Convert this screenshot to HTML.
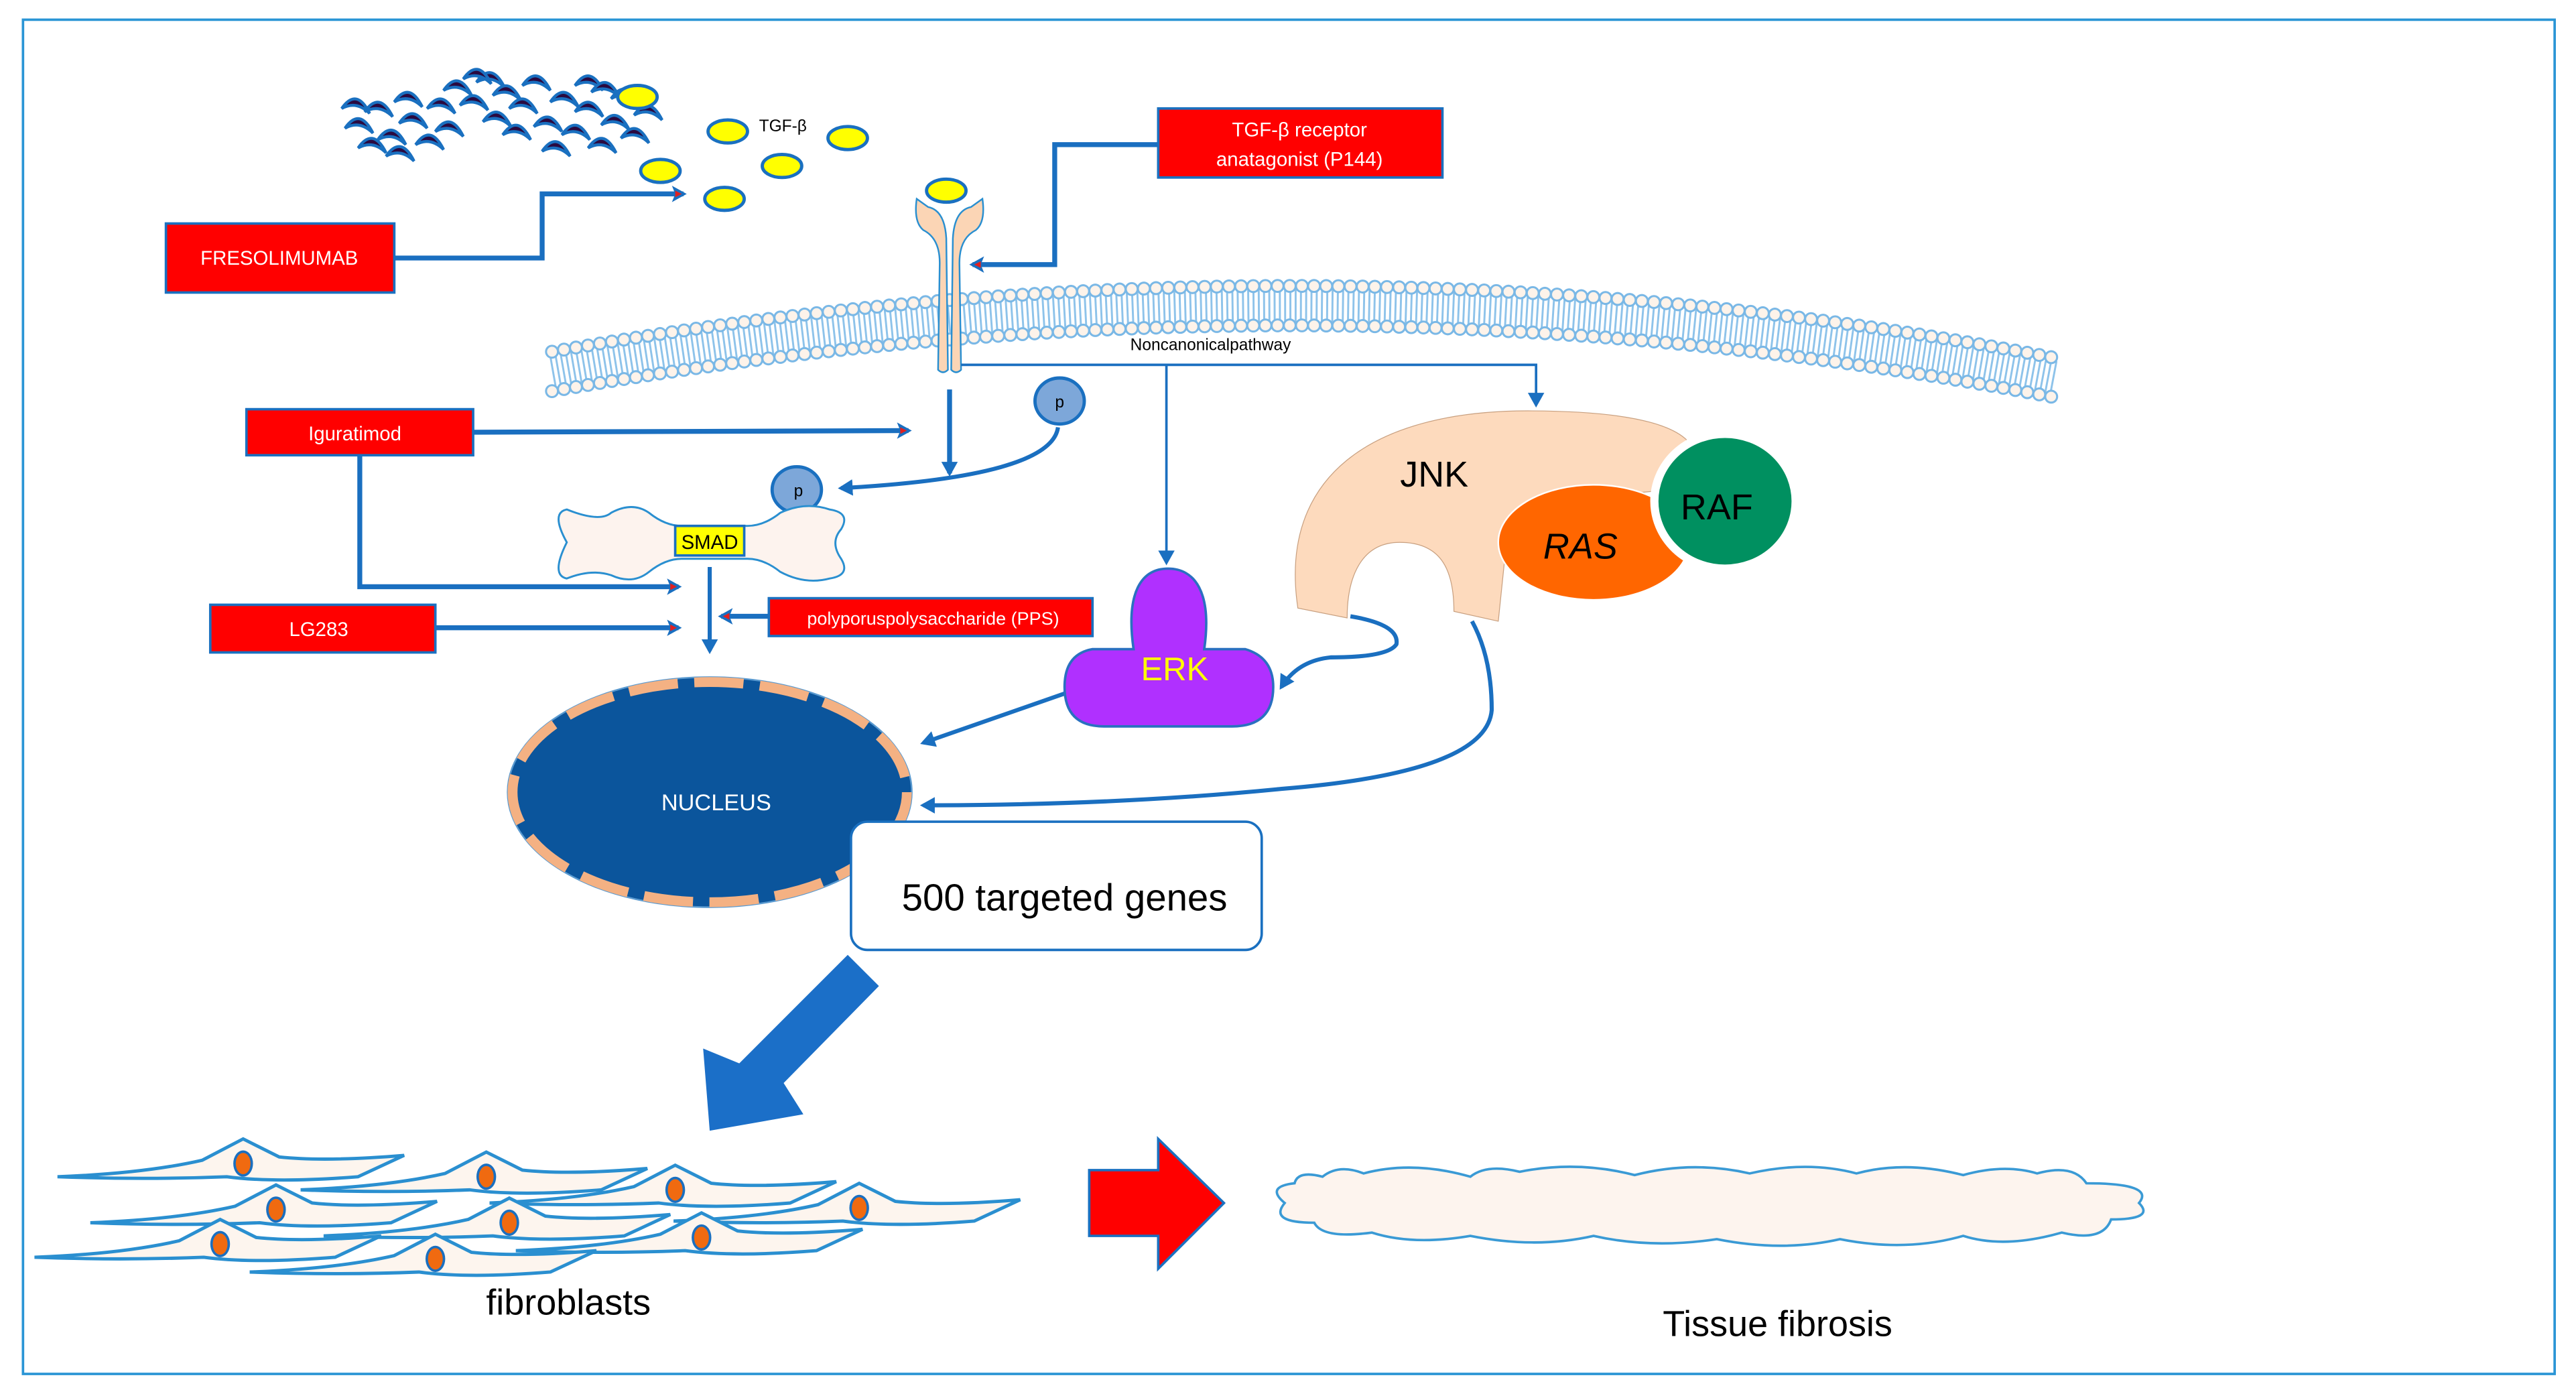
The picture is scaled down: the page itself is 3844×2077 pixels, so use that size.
<!DOCTYPE html>
<html><head><meta charset="utf-8"><style>
html,body{margin:0;padding:0;background:#fff;}
svg{display:block;}
text{font-family:"Liberation Sans",sans-serif;}
</style></head><body>
<svg width="3844" height="2077" viewBox="0 0 1568 847" preserveAspectRatio="none" xmlns="http://www.w3.org/2000/svg">
<defs>
<marker id="ah" markerWidth="10" markerHeight="10" refX="7" refY="5" orient="auto" markerUnits="userSpaceOnUse">
<path d="M0,0 L9,5 L0,10 L2,5 Z" fill="#1a6fc0"/><path d="M2,3 L6,5 L2,7 Z" fill="#e02020"/>
</marker>
<marker id="ab" markerWidth="10" markerHeight="10" refX="7" refY="5" orient="auto" markerUnits="userSpaceOnUse">
<path d="M0,0 L9,5 L0,10 Z" fill="#1a6fc0"/>
</marker>
<g id="cell">
<path d="M-113,8 Q-60,6 -25,-2 L0,-15 L22,-4 Q50,-1 98,-5 L70,8 Q20,12 -10,8 Q-60,10 -113,8 Z" fill="#fdf5ee" stroke="#2a8fd0" stroke-width="2"/>
<ellipse cx="0" cy="0" rx="6" ry="8" fill="#1a6fc0"/>
<ellipse cx="0" cy="0" rx="4.5" ry="6.5" fill="#f06a10"/>
</g>
<path id="cr" d="M0,0 Q9,-13 17,3 Q9,-5 0,0 Z" fill="#2a0a40" stroke="#1a70c0" stroke-width="1.8"/>
</defs>

<rect x="14" y="12" width="1541" height="824" fill="#fff" stroke="#2a95d5" stroke-width="1.5"/>

<!-- crescents -->
<g>
<use href="#cr" x="210" y="78"/><use href="#cr" x="222" y="68"/><use href="#cr" x="230" y="85"/><use href="#cr" x="243" y="75"/>
<use href="#cr" x="253" y="88"/><use href="#cr" x="260" y="66"/><use href="#cr" x="270" y="55"/><use href="#cr" x="280" y="64"/>
<use href="#cr" x="290" y="50"/><use href="#cr" x="300" y="58"/><use href="#cr" x="294" y="74"/><use href="#cr" x="310" y="66"/>
<use href="#cr" x="318" y="52"/><use href="#cr" x="325" y="77"/><use href="#cr" x="335" y="62"/><use href="#cr" x="342" y="82"/>
<use href="#cr" x="350" y="68"/><use href="#cr" x="358" y="90"/><use href="#cr" x="366" y="76"/><use href="#cr" x="372" y="60"/>
<use href="#cr" x="378" y="84"/><use href="#cr" x="240" y="62"/><use href="#cr" x="218" y="90"/><use href="#cr" x="350" y="52"/>
<use href="#cr" x="235" y="95"/><use href="#cr" x="265" y="80"/><use href="#cr" x="282" y="48"/><use href="#cr" x="306" y="82"/>
<use href="#cr" x="330" y="92"/><use href="#cr" x="360" y="56"/><use href="#cr" x="208" y="66"/><use href="#cr" x="386" y="70"/>
</g>

<!-- TGF-b -->
<g fill="#ffff00" stroke="#1a70c0" stroke-width="2">
<ellipse cx="388" cy="59" rx="12" ry="7"/><ellipse cx="443" cy="80" rx="12" ry="7"/><ellipse cx="516" cy="84" rx="12" ry="7"/>
<ellipse cx="402" cy="104" rx="12" ry="7"/><ellipse cx="476" cy="101" rx="12" ry="7"/><ellipse cx="441" cy="121" rx="12" ry="7"/>
</g>
<text x="462" y="80" font-size="10">TGF-β</text>

<!-- membrane -->
<path d="M336,226 Q800,144 1252,230" fill="none" stroke="#8ec3ea" stroke-width="20" stroke-dasharray="1.2 2"/>
<path d="M336,214 Q800,132 1252,218" fill="none" stroke="#7ab8e6" stroke-width="8.5" stroke-dasharray="0 7.4" stroke-linecap="round"/>
<path d="M336,214 Q800,132 1252,218" fill="none" stroke="#fdf3ea" stroke-width="6" stroke-dasharray="0 7.4" stroke-linecap="round"/>
<path d="M336,238 Q800,156 1252,242" fill="none" stroke="#7ab8e6" stroke-width="8.5" stroke-dasharray="0 7.4" stroke-linecap="round"/>
<path d="M336,238 Q800,156 1252,242" fill="none" stroke="#fdf3ea" stroke-width="6" stroke-dasharray="0 7.4" stroke-linecap="round"/>

<!-- receptor -->
<g fill="#fbd5b5" stroke="#2a8fd0" stroke-width="1">
<path d="M558,121 Q556,135 562,140 Q572,145 572,160 L571,225 Q574,228 577,225 L576,145 Q575,128 565,126 Z"/>
<path d="M598,121 Q600,135 594,140 Q584,145 584,160 L585,225 Q582,228 579,225 L580,145 Q581,128 591,126 Z"/>
</g>
<ellipse cx="576" cy="116" rx="12" ry="7" fill="#ffff00" stroke="#1a70c0" stroke-width="2"/>

<!-- red boxes -->
<g fill="#ff0000" stroke="#1a70c0" stroke-width="1.5">
<rect x="101" y="136" width="139" height="42"/>
<rect x="705" y="66" width="173" height="42"/>
<rect x="150" y="249" width="138" height="28"/>
<rect x="128" y="368" width="137" height="29"/>
<rect x="468" y="364" width="197" height="23"/>
</g>
<g fill="#fff" font-size="12" text-anchor="middle">
<text x="170" y="161">FRESOLIMUMAB</text>
<text x="791" y="83">TGF-β receptor</text>
<text x="791" y="101">anatagonist (P144)</text>
<text x="216" y="268">Iguratimod</text>
<text x="194" y="387">LG283</text>
<text x="568" y="380" font-size="11">polyporuspolysaccharide (PPS)</text>
</g>

<!-- connectors -->
<g fill="none" stroke="#1a6fc0" stroke-width="3">
<path d="M240,157 H330 V118 H416" marker-end="url(#ah)"/>
<path d="M705,88 H642 V161 H592" marker-end="url(#ah)"/>
<path d="M288,263 L553,262" marker-end="url(#ah)"/>
<path d="M219,277 V357 H413" marker-end="url(#ah)"/>
<path d="M265,382 H413" marker-end="url(#ah)"/>
<path d="M468,375 H439" marker-end="url(#ah)"/>
<path d="M432,345 V396" stroke-width="2.5" marker-end="url(#ab)"/>
<path d="M578,237 V288" marker-end="url(#ab)"/>
<path d="M644,260 Q640,290 512,297" stroke-width="2.5" marker-end="url(#ab)"/>
<path d="M648,422 L562,452" stroke-width="2.5" marker-end="url(#ab)"/>
<path d="M822,375 Q852,380 850,392 Q845,400 810,400 Q790,402 780,418" stroke-width="2.5" marker-end="url(#ab)"/>
<path d="M896,378 Q908,400 908,432 Q905,470 780,480 Q680,490 562,490" stroke-width="2.5" marker-end="url(#ab)"/>
</g>
<g fill="none" stroke="#1a6fc0" stroke-width="1.5">
<path d="M585,222 H935 V246" marker-end="url(#ab)"/>
<path d="M710,222 V342" marker-end="url(#ab)"/>
</g>
<text x="688" y="213" font-size="10">Noncanonicalpathway</text>

<!-- p circles -->
<g fill="#7da7d9" stroke="#1a70c0" stroke-width="2">
<ellipse cx="645" cy="244" rx="15" ry="14"/><ellipse cx="485" cy="298" rx="15" ry="14"/>
</g>
<text x="645" y="248" font-size="10" text-anchor="middle">p</text>
<text x="486" y="302" font-size="10" text-anchor="middle">p</text>

<!-- SMAD -->
<path d="M345,310 Q365,318 372,312 Q385,305 395,312 Q405,320 415,320 L455,320 Q465,320 475,312 Q490,305 505,310 Q518,312 512,322 Q505,330 512,340 Q518,350 505,352 Q490,356 475,348 Q465,340 455,340 L415,340 Q405,340 395,348 Q385,356 372,350 Q360,346 345,352 Q335,350 345,330 Q335,312 345,310 Z" fill="#fdf3ee" stroke="#2a8fd0" stroke-width="1.2"/>
<rect x="411" y="320" width="42" height="18" fill="#ffff00" stroke="#1a70c0" stroke-width="1.5"/>
<text x="432" y="334" font-size="12" text-anchor="middle">SMAD</text>

<!-- nucleus -->
<ellipse cx="432" cy="482" rx="123" ry="70" fill="#0b559c" stroke="#5a9ad0" stroke-width="1"/>
<ellipse cx="432" cy="482" rx="120" ry="67" fill="none" stroke="#f4b183" stroke-width="6" stroke-dasharray="30 10"/>
<text x="436" y="493" font-size="14" fill="#fff" text-anchor="middle">NUCLEUS</text>

<!-- genes box -->
<rect x="518" y="500" width="250" height="78" rx="10" fill="#fff" stroke="#1a70c0" stroke-width="1.5"/>
<text x="648" y="554" font-size="23" text-anchor="middle">500 targeted genes</text>

<!-- JNK / RAS / RAF -->
<path d="M790,370 C778,290 835,250 930,250 C990,250 1035,258 1032,282 C1028,300 1005,300 975,300 Q930,305 918,320 L912,378 L885,372 C885,345 876,330 852,330 C828,330 820,352 820,376 Z" fill="#fddabd" stroke="#c8a080" stroke-width="0.5"/>
<ellipse cx="970" cy="330" rx="58" ry="35" fill="#ff6600" stroke="#fff" stroke-width="1"/>
<ellipse cx="1050" cy="305" rx="43" ry="41" fill="#009060" stroke="#fff" stroke-width="5"/>
<text x="873" y="296" font-size="22" text-anchor="middle">JNK</text>
<text x="962" y="340" font-size="22" font-style="italic" text-anchor="middle">RAS</text>
<text x="1045" y="316" font-size="22" text-anchor="middle">RAF</text>

<!-- ERK -->
<path d="M690,395 C685,360 695,346 711,346 C727,346 738,360 733,395 L758,395 Q775,400 775,418 Q775,442 750,442 L672,442 Q648,442 648,418 Q648,398 665,395 Z" fill="#b030ff" stroke="#2a70c0" stroke-width="1.5"/>
<text x="715" y="414" font-size="20" fill="#ffff00" text-anchor="middle">ERK</text>

<!-- big blue arrow -->
<polygon points="516,581 535,600 477,659 489,678 432,688 428,638 450,647" fill="#1b6fc8"/>

<!-- fibroblasts -->
<use href="#cell" x="148" y="708"/><use href="#cell" x="296" y="716"/><use href="#cell" x="411" y="724"/>
<use href="#cell" x="168" y="736"/><use href="#cell" x="523" y="735"/><use href="#cell" x="310" y="744"/>
<use href="#cell" x="134" y="757"/><use href="#cell" x="427" y="753"/><use href="#cell" x="265" y="766"/>
<text x="346" y="800" font-size="22" text-anchor="middle">fibroblasts</text>

<!-- red arrow -->
<polygon points="663,712 705,712 705,693 745,732 705,772 705,752 663,752" fill="#ff0000" stroke="#1a70c0" stroke-width="1.5"/>

<!-- cloud -->
<path d="M782,732 Q770,722 788,720 Q790,712 805,716 Q815,708 830,714 Q860,706 895,716 Q905,708 925,713 Q960,706 995,715 Q1030,706 1065,714 Q1100,706 1130,714 Q1160,706 1195,715 Q1220,708 1240,714 Q1262,708 1270,720 Q1312,720 1302,732 Q1312,742 1285,742 Q1280,756 1255,750 Q1220,760 1195,752 Q1160,762 1120,754 Q1085,762 1045,754 Q1005,760 970,752 Q935,760 895,752 Q860,758 835,750 Q805,754 800,744 Q772,744 782,732 Z" fill="#fdf4ee" stroke="#3a9ad5" stroke-width="1.5"/>
<text x="1082" y="813" font-size="22" text-anchor="middle">Tissue fibrosis</text>
</svg>
</body></html>
